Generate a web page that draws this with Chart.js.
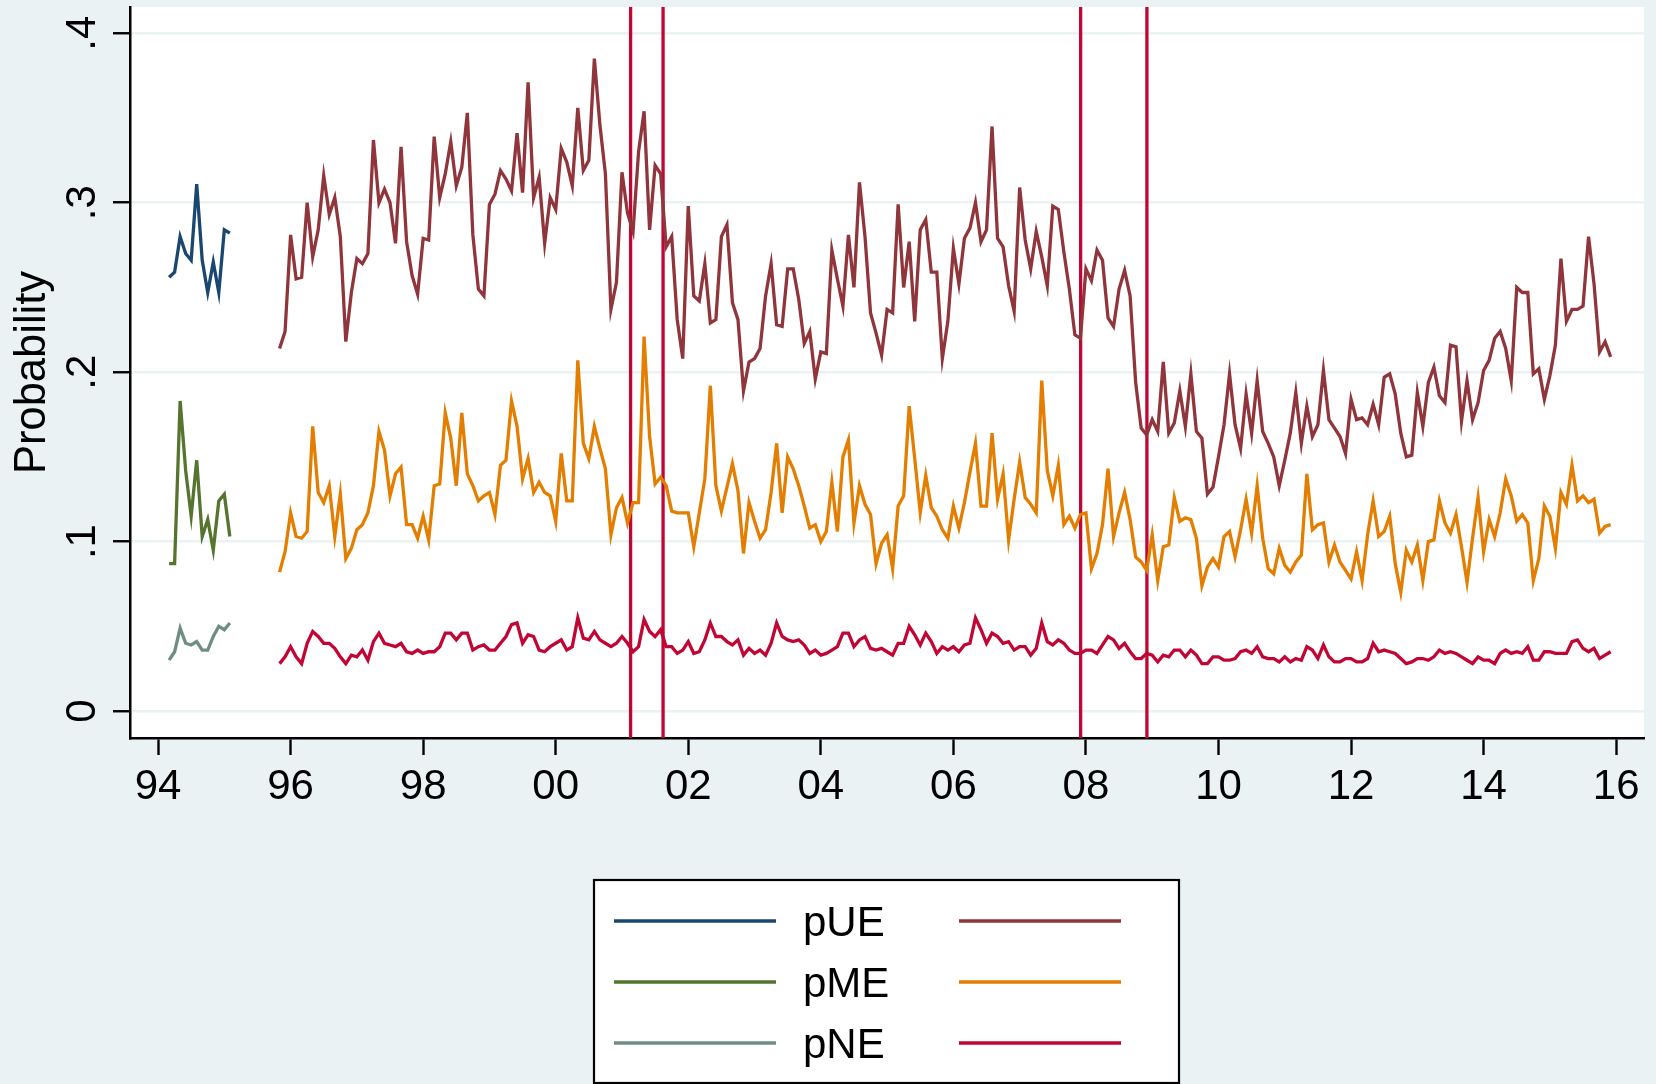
<!DOCTYPE html>
<html>
<head>
<meta charset="utf-8">
<script src="https://cdn.jsdelivr.net/npm/chart.js@4.4.1/dist/chart.umd.min.js"></script>
<style>
    html, body { margin: 0; padding: 0; background: #eaf2f3; }
    #wrap { width: 1656px; height: 1084px; }
</style>
</head>
<body>
<div id="wrap"><canvas id="probChart" width="1656" height="1084"></canvas></div>
<script>
// monthly series, x = year + (month - 1) / 12
const earlyStart = 1994 + 2 / 12;   // Mar 1994
const lateStart = 1995 + 10 / 12;   // Nov 1995

const pUE94 = [0.256, 0.259, 0.280, 0.270, 0.266, 0.311, 0.266, 0.247, 0.265, 0.247, 0.284, 0.282];
const pME94 = [0.087, 0.087, 0.183, 0.142, 0.115, 0.148, 0.103, 0.113, 0.095, 0.124, 0.128, 0.103];
const pNE94 = [0.030, 0.035, 0.049, 0.040, 0.039, 0.041, 0.036, 0.036, 0.044, 0.050, 0.048, 0.052];

const pUE = [
    0.214, 0.224, 0.281, 0.255, 0.256, 0.300, 0.268, 0.284, 0.316, 0.293, 0.303, 0.280, 0.218, 0.247, 0.267, 0.264, 0.270, 0.337, 0.300, 0.308, 0.300, 0.276, 0.333, 0.277,
    0.257, 0.246, 0.279, 0.278, 0.339, 0.303, 0.317, 0.336, 0.310, 0.321, 0.353, 0.281, 0.249, 0.245, 0.299, 0.305, 0.319, 0.314, 0.307, 0.341, 0.306, 0.371, 0.303, 0.315, 0.276, 0.303, 0.296, 0.332, 0.324, 0.310, 0.356, 0.319, 0.325, 0.385, 0.346, 0.317, 0.237, 0.253, 0.318, 0.294, 0.283, 0.330, 0.354, 0.284, 0.322,
    0.317, 0.274, 0.280, 0.231, 0.208, 0.298, 0.245, 0.242, 0.264, 0.229, 0.231, 0.280, 0.287, 0.241, 0.231, 0.189, 0.206, 0.208, 0.214, 0.245, 0.264, 0.228, 0.227, 0.261, 0.261, 0.243, 0.217, 0.224, 0.196, 0.212, 0.211, 0.272, 0.255, 0.239, 0.281, 0.250, 0.312, 0.280, 0.235, 0.223, 0.210, 0.237, 0.235, 0.299, 0.250, 0.277,
    0.230, 0.284, 0.290, 0.259, 0.259, 0.208, 0.230, 0.273, 0.252, 0.279, 0.285, 0.300, 0.277, 0.284, 0.345, 0.279, 0.274, 0.251, 0.236, 0.309, 0.278, 0.261, 0.283, 0.268, 0.251, 0.298, 0.296, 0.271, 0.249, 0.222, 0.220, 0.261, 0.254, 0.272, 0.266, 0.232, 0.227, 0.249, 0.260, 0.245, 0.194, 0.167, 0.163, 0.172, 0.165,
    0.206, 0.164, 0.170, 0.189, 0.168, 0.199, 0.165, 0.161, 0.128, 0.132, 0.150, 0.169, 0.199, 0.169, 0.155, 0.187, 0.164, 0.195, 0.165, 0.158, 0.150, 0.133, 0.148, 0.164, 0.188, 0.158, 0.180, 0.162, 0.169, 0.201, 0.172, 0.167, 0.162, 0.152, 0.184, 0.172, 0.173, 0.169, 0.181, 0.169, 0.197, 0.199, 0.187, 0.164, 0.150,
    0.151, 0.188, 0.168, 0.194, 0.203, 0.186, 0.182, 0.216, 0.215, 0.171, 0.195, 0.172, 0.182, 0.201, 0.207, 0.220, 0.224, 0.214, 0.195, 0.250, 0.247, 0.247, 0.199, 0.202, 0.184, 0.198, 0.216, 0.267, 0.230, 0.237, 0.237, 0.239, 0.280, 0.252, 0.212, 0.218, 0.209
];

const pME = [
    0.082, 0.094, 0.117, 0.103, 0.102, 0.106, 0.168, 0.129, 0.123, 0.133, 0.103, 0.128, 0.090, 0.096, 0.107, 0.110, 0.117, 0.133, 0.165, 0.154, 0.127, 0.140, 0.144, 0.110,
    0.110, 0.102, 0.115, 0.101, 0.133, 0.134, 0.176, 0.161, 0.133, 0.176, 0.140, 0.133, 0.124, 0.127, 0.129, 0.116, 0.145, 0.148, 0.183, 0.168, 0.137, 0.149, 0.129, 0.135, 0.129, 0.127, 0.112, 0.152, 0.124, 0.124, 0.207, 0.158, 0.149, 0.168, 0.155, 0.143, 0.104, 0.120, 0.126, 0.111, 0.123, 0.123, 0.221, 0.162, 0.134,
    0.138, 0.133, 0.118, 0.117, 0.117, 0.117, 0.097, 0.117, 0.137, 0.192, 0.133, 0.118, 0.132, 0.146, 0.130, 0.093, 0.123, 0.112, 0.102, 0.107, 0.129, 0.158, 0.117, 0.150, 0.143, 0.133, 0.121, 0.108, 0.110, 0.100, 0.106, 0.135, 0.106, 0.150, 0.160, 0.111, 0.133, 0.122, 0.116, 0.087, 0.099, 0.104, 0.084, 0.121, 0.127, 0.180,
    0.149, 0.117, 0.139, 0.120, 0.115, 0.107, 0.102, 0.121, 0.108, 0.123, 0.141, 0.158, 0.121, 0.121, 0.164, 0.125, 0.140, 0.101, 0.125, 0.147, 0.126, 0.122, 0.117, 0.195, 0.142, 0.127, 0.145, 0.110, 0.115, 0.108, 0.116, 0.117, 0.084, 0.093, 0.110, 0.143, 0.103, 0.117, 0.129, 0.113, 0.091, 0.088, 0.083, 0.104, 0.077,
    0.097, 0.098, 0.126, 0.112, 0.114, 0.113, 0.102, 0.074, 0.085, 0.090, 0.085, 0.103, 0.106, 0.091, 0.107, 0.125, 0.105, 0.133, 0.102, 0.084, 0.081, 0.096, 0.086, 0.082, 0.088, 0.092, 0.140, 0.107, 0.110, 0.111, 0.088, 0.098, 0.088, 0.083, 0.078, 0.094, 0.077, 0.104, 0.124, 0.103, 0.106, 0.115, 0.087, 0.070, 0.095,
    0.088, 0.098, 0.077, 0.100, 0.101, 0.124, 0.111, 0.105, 0.116, 0.097, 0.076, 0.102, 0.126, 0.094, 0.113, 0.103, 0.117, 0.137, 0.127, 0.112, 0.116, 0.111, 0.077, 0.090, 0.121, 0.115, 0.096, 0.129, 0.122, 0.145, 0.124, 0.127, 0.123, 0.125, 0.105, 0.109, 0.110
];

const pNE = [
    0.028, 0.032, 0.038, 0.032, 0.028, 0.040, 0.047, 0.044, 0.040, 0.040, 0.037, 0.032, 0.028, 0.033, 0.032, 0.036, 0.030, 0.041, 0.046, 0.040, 0.039, 0.038, 0.040, 0.035,
    0.034, 0.036, 0.034, 0.035, 0.035, 0.038, 0.046, 0.046, 0.042, 0.046, 0.046, 0.036, 0.038, 0.039, 0.036, 0.036, 0.040, 0.044, 0.051, 0.052, 0.040, 0.045, 0.044, 0.036, 0.035, 0.038, 0.040, 0.042, 0.036, 0.038, 0.055, 0.043, 0.042, 0.047, 0.042, 0.040, 0.038, 0.040, 0.044, 0.040, 0.035, 0.038, 0.054, 0.047, 0.044,
    0.048, 0.038, 0.038, 0.034, 0.036, 0.041, 0.034, 0.035, 0.042, 0.052, 0.044, 0.044, 0.041, 0.039, 0.042, 0.033, 0.037, 0.034, 0.036, 0.033, 0.040, 0.052, 0.044, 0.042, 0.041, 0.042, 0.039, 0.034, 0.036, 0.033, 0.034, 0.036, 0.038, 0.046, 0.046, 0.038, 0.042, 0.044, 0.037, 0.036, 0.037, 0.035, 0.033, 0.040, 0.040, 0.050,
    0.045, 0.039, 0.046, 0.041, 0.034, 0.038, 0.036, 0.038, 0.035, 0.039, 0.040, 0.055, 0.048, 0.040, 0.046, 0.044, 0.040, 0.041, 0.036, 0.038, 0.038, 0.033, 0.037, 0.052, 0.041, 0.039, 0.042, 0.040, 0.036, 0.034, 0.034, 0.036, 0.036, 0.034, 0.039, 0.044, 0.042, 0.037, 0.040, 0.035, 0.031, 0.031, 0.034, 0.033, 0.029,
    0.033, 0.032, 0.036, 0.036, 0.032, 0.036, 0.033, 0.028, 0.028, 0.032, 0.032, 0.030, 0.030, 0.031, 0.035, 0.036, 0.034, 0.038, 0.032, 0.031, 0.031, 0.029, 0.032, 0.029, 0.031, 0.030, 0.038, 0.036, 0.031, 0.039, 0.032, 0.029, 0.029, 0.031, 0.031, 0.029, 0.029, 0.031, 0.040, 0.035, 0.036, 0.035, 0.034, 0.031, 0.028,
    0.029, 0.031, 0.031, 0.030, 0.032, 0.036, 0.034, 0.035, 0.034, 0.032, 0.030, 0.028, 0.032, 0.030, 0.030, 0.028, 0.034, 0.036, 0.034, 0.035, 0.034, 0.038, 0.030, 0.030, 0.035, 0.035, 0.034, 0.034, 0.034, 0.041, 0.042, 0.037, 0.035, 0.037, 0.031, 0.033, 0.035
];

const recessionLines = [2001.13, 2001.62, 2007.92, 2008.92];
const xTickYears = [1994, 1996, 1998, 2000, 2002, 2004, 2006, 2008, 2010, 2012, 2014, 2016];
const xTickLabels = ['94', '96', '98', '00', '02', '04', '06', '08', '10', '12', '14', '16'];
const yTickValues = [0, 0.1, 0.2, 0.3, 0.4];
const yTickLabels = ['0', '.1', '.2', '.3', '.4'];
const legendLabels = ['pUE', 'pME', 'pNE'];

// Stata s2color palette
const colEarly = ['#1a476f', '#55752f', '#6e8e84'];
const colLate = ['#90353b', '#e37e00', '#c10534'];

const FONT = '"Liberation Sans", Arial, Helvetica, sans-serif';
const BG = '#eaf2f3';
const LW = 3.3;

function toPoints(start, vals) {
    return vals.map((v, i) => ({ x: start + i / 12, y: v }));
}

function lineSet(label, start, vals, color) {
    return {
        label: label,
        data: toPoints(start, vals),
        borderColor: color,
        backgroundColor: color,
        borderWidth: LW,
        pointRadius: 0,
        tension: 0,
        fill: false
    };
}

// background + white plot region
const bgPlugin = {
    id: 'bgPlugin',
    beforeDraw(chart) {
        const { ctx, chartArea } = chart;
        ctx.save();
        ctx.fillStyle = BG;
        ctx.fillRect(0, 0, chart.width, chart.height);
        ctx.fillStyle = '#ffffff';
        ctx.fillRect(chartArea.left, chartArea.top, chartArea.right - chartArea.left, chartArea.bottom - chartArea.top);
        ctx.restore();
    }
};

// vertical recession markers
const xlinePlugin = {
    id: 'xlinePlugin',
    beforeDatasetsDraw(chart) {
        const { ctx, chartArea } = chart;
        const xs = chart.scales.x;
        ctx.save();
        ctx.strokeStyle = '#c10534';
        ctx.lineWidth = 3.3;
        recessionLines.forEach(d => {
            const px = xs.getPixelForValue(d);
            ctx.beginPath();
            ctx.moveTo(px, chartArea.top);
            ctx.lineTo(px, chartArea.bottom);
            ctx.stroke();
        });
        ctx.restore();
    }
};

// rotated y labels and axis title, Stata-like
const yLabelPlugin = {
    id: 'yLabelPlugin',
    afterDraw(chart) {
        const { ctx, chartArea } = chart;
        const ys = chart.scales.y;
        ctx.save();
        ctx.fillStyle = '#000';
        ctx.font = '42px ' + FONT;
        ctx.textAlign = 'center';
        ctx.textBaseline = 'alphabetic';
        yTickValues.forEach((v, i) => {
            const py = ys.getPixelForValue(v);
            ctx.save();
            ctx.translate(95, py);
            ctx.rotate(-Math.PI / 2);
            ctx.fillText(yTickLabels[i], 0, 0);
            ctx.restore();
        });
        ctx.font = '43.5px ' + FONT;
        ctx.translate(45, (chartArea.top + chartArea.bottom) / 2);
        ctx.rotate(-Math.PI / 2);
        ctx.fillText('Probability', 0, 0);
        ctx.restore();
    }
};

// two-column legend box under the plot
const legendPlugin = {
    id: 'legendPlugin',
    afterDraw(chart) {
        const ctx = chart.ctx;
        const box = { left: 594, top: 880, right: 1179, bottom: 1083 };
        const rows = [921, 982, 1043];
        ctx.save();
        ctx.fillStyle = '#ffffff';
        ctx.fillRect(box.left, box.top, box.right - box.left, box.bottom - box.top);
        ctx.strokeStyle = '#000';
        ctx.lineWidth = 2.2;
        ctx.strokeRect(box.left, box.top, box.right - box.left, box.bottom - box.top);
        ctx.lineWidth = LW;
        ctx.font = '42px ' + FONT;
        ctx.fillStyle = '#000';
        ctx.textAlign = 'left';
        ctx.textBaseline = 'middle';
        rows.forEach((y, i) => {
            ctx.strokeStyle = chart.data.datasets[i].borderColor;
            ctx.beginPath();
            ctx.moveTo(614, y);
            ctx.lineTo(776, y);
            ctx.stroke();
            ctx.strokeStyle = chart.data.datasets[i + 3].borderColor;
            ctx.beginPath();
            ctx.moveTo(959, y);
            ctx.lineTo(1121, y);
            ctx.stroke();
            ctx.fillText(legendLabels[i], 803, y + 3);
        });
        ctx.restore();
    }
};

Chart.defaults.font.family = FONT;

const ctx = document.getElementById('probChart');
new Chart(ctx, {
    type: 'line',
    data: {
        datasets: [
            lineSet('pUE', earlyStart, pUE94, colEarly[0]),
            lineSet('pME', earlyStart, pME94, colEarly[1]),
            lineSet('pNE', earlyStart, pNE94, colEarly[2]),
            lineSet('pUE', lateStart, pUE, colLate[0]),
            lineSet('pME', lateStart, pME, colLate[1]),
            lineSet('pNE', lateStart, pNE, colLate[2])
        ]
    },
    options: {
        responsive: false,
        animation: false,
        events: [],
        layout: { padding: { left: 0, top: 7, right: 12, bottom: 0 } },
        plugins: {
            legend: { display: false },
            tooltip: { enabled: false },
            title: { display: false }
        },
        scales: {
            x: {
                type: 'linear',
                min: 1993.577,
                max: 2016.42,
                afterBuildTicks: (scale) => {
                    scale.ticks = xTickYears.map(v => ({ value: v }));
                },
                afterFit: (scale) => { scale.height = 346; },
                ticks: {
                    autoSkip: false,
                    maxRotation: 0,
                    minRotation: 0,
                    padding: 7,
                    color: '#000',
                    font: { size: 42 },
                    callback: (v) => xTickLabels[xTickYears.indexOf(v)]
                },
                grid: {
                    drawOnChartArea: false,
                    drawTicks: true,
                    tickLength: 17,
                    tickColor: '#000',
                    tickWidth: 2.4
                },
                border: { display: true, color: '#000', width: 2.5 }
            },
            y: {
                type: 'linear',
                min: -0.0159,
                max: 0.4155,
                afterBuildTicks: (scale) => {
                    scale.ticks = yTickValues.map(v => ({ value: v }));
                },
                afterFit: (scale) => { scale.width = 130; },
                ticks: { display: false },
                grid: {
                    color: BG,
                    lineWidth: 2.5,
                    drawTicks: true,
                    tickLength: 17,
                    tickColor: '#000',
                    tickWidth: 2.4
                },
                border: { display: true, color: '#000', width: 2.5 }
            }
        }
    },
    plugins: [bgPlugin, xlinePlugin, yLabelPlugin, legendPlugin]
});
</script>
</body>
</html>
